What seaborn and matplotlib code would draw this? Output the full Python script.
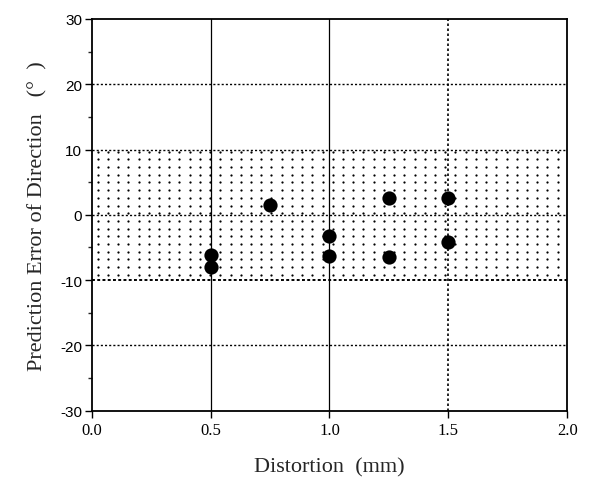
import matplotlib
matplotlib.use("Agg")
import matplotlib.pyplot as plt
import seaborn as sns
import numpy as np
import pandas as pd
from matplotlib.ticker import MultipleLocator

# data
distortion = [0.5, 0.5, 0.75, 1.0, 1.0, 1.25, 1.25, 1.5, 1.5]
pred_error = [-6.2, -8.0, 1.5, -3.2, -6.3, 2.5, -6.4, 2.6, -4.1]
x_ticks = [0.0, 0.5, 1.0, 1.5, 2.0]
y_ticks = [-30, -20, -10, 0, 10, 20, 30]
band = [-10, 10]

df = pd.DataFrame({"Distortion": distortion, "Error": pred_error})

sns.set_style("ticks")
plt.rcParams['font.family'] = ['Liberation Serif', 'DejaVu Serif']

fig = plt.figure(figsize=(5.92, 4.85), dpi=100)
ax = fig.add_axes([0.155, 0.151, 0.803, 0.808])

# dotted texture of the tolerance band (decoration)
gx, gy = np.meshgrid(np.arange(0.025, 2.0, 0.043), np.arange(band[0] + 0.8, band[1], 1.18))
ax.scatter(gx.ravel(), gy.ravel(), s=2.6, color='black', linewidths=0, zorder=0)

# grid lines
for yv in [20, 10, 0, -20]:
    ax.axhline(yv, color='black', linestyle=(0, (1.5, 1.5)), linewidth=1.0, zorder=1)
ax.axhline(-10, color='black', linestyle=(0, (1.5, 1.2)), linewidth=1.4, zorder=1)
for xv in [0.5, 1.0]:
    ax.axvline(xv, color='black', linestyle='-', linewidth=0.9, zorder=1)
ax.axvline(1.5, color='black', linestyle=(0, (1.5, 1.5)), linewidth=1.2, zorder=1)

sns.scatterplot(data=df, x="Distortion", y="Error", ax=ax, color='black',
                s=105, edgecolor='black', linewidth=0, zorder=3, legend=False)

ax.set_xlim(0, 2.0)
ax.set_ylim(-30, 30)
ax.set_xticks(x_ticks)
ax.set_xticklabels([f"{v:.1f}" for v in x_ticks])
ax.set_yticks(y_ticks)
ax.set_yticklabels([str(v) for v in y_ticks], family=['Liberation Sans', 'DejaVu Sans'])
ax.yaxis.set_minor_locator(MultipleLocator(5))
ax.tick_params(axis='both', which='major', direction='out', length=5, width=1.0,
               colors='black')
ax.tick_params(axis='x', labelsize=12, pad=3)
ax.tick_params(axis='y', labelsize=11, pad=2)
ax.tick_params(axis='y', which='minor', direction='out', length=3, width=1.0)

for sp in ax.spines.values():
    sp.set_visible(True)
    sp.set_color('black')
    sp.set_linewidth(1.3)

ax.set_xlabel("Distortion  (mm)", fontsize=16, labelpad=14)
ax.set_ylabel("Prediction Error of Direction   (°  )", fontsize=16, labelpad=9)

fig.savefig("out.png", dpi=100)
